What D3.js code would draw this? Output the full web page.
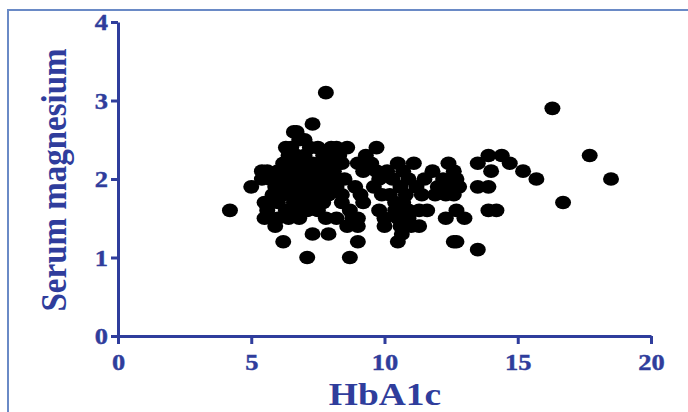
<!DOCTYPE html>
<html><head><meta charset="utf-8">
<script src="https://cdn.jsdelivr.net/npm/d3@7"></script>
<style>
html,body{margin:0;padding:0;background:#fff;}
svg{display:block;}
</style></head>
<body>
<svg id="chart" width="688" height="412"></svg>
<script>
// HbA1c (x) and Serum magnesium (y) pairs, grouped by magnesium level
const rows = [
  [3.1, [7.8]],
  [2.9, [16.3]],
  [2.7, [7.3]],
  [2.6, [6.6, 6.7]],
  [2.5, [6.8, 7.0]],
  [2.4, [6.3, 6.5, 7.2, 7.5, 8.0, 8.2, 8.6, 9.7]],
  [2.3, [6.4, 6.7, 7.0, 7.7, 7.9, 8.3, 9.3, 13.9, 14.4, 17.7]],
  [2.2, [6.2, 6.6, 6.9, 7.3, 7.6, 8.0, 8.4, 9.0, 9.5, 10.5, 11.1, 12.4, 13.5, 14.7]],
  [2.1, [5.4, 5.6, 6.0, 6.5, 6.8, 7.1, 7.5, 7.8, 8.1, 9.2, 9.7, 10.1, 10.7, 11.8, 12.6, 14.0, 15.2]],
  [2.0, [5.4, 5.7, 6.1, 6.4, 6.9, 7.2, 7.6, 8.0, 8.5, 9.8, 10.3, 10.9, 11.5, 12.2, 12.7, 15.7, 18.5]],
  [1.9, [5.0, 5.9, 6.3, 6.6, 7.0, 7.3, 7.8, 8.2, 8.9, 9.6, 10.6, 11.2, 12.0, 12.4, 12.8, 13.5, 13.9]],
  [1.8, [5.8, 6.2, 6.5, 6.8, 7.2, 7.5, 7.9, 8.4, 9.1, 9.9, 10.2, 10.8, 11.4, 11.9, 12.3, 12.6]],
  [1.7, [5.5, 6.0, 6.6, 6.9, 7.3, 7.7, 8.4, 9.2, 10.4, 10.7, 16.7]],
  [1.6, [4.2, 5.6, 6.3, 6.8, 7.1, 7.5, 8.7, 9.8, 10.4, 10.9, 11.3, 11.6, 12.7, 13.9, 14.2]],
  [1.5, [5.5, 6.0, 6.4, 6.8, 7.8, 8.2, 8.8, 9.0, 10.0, 10.5, 10.9, 12.3, 13.0]],
  [1.4, [5.9, 8.6, 9.0, 10.0, 10.6, 11.0, 11.3]],
  [1.3, [7.3, 7.9, 10.65]],
  [1.2, [6.2, 9.0, 10.5, 12.6, 12.7]],
  [1.1, [13.5]],
  [1.0, [7.1, 8.7]]
];
const xTicks = [0, 5, 10, 15, 20];
const yTicks = [0, 1, 2, 3, 4];
const xTitle = "HbA1c";
const yTitle = "Serum magnesium";

const points = [];
rows.forEach(([mg, hs]) => hs.forEach(h => points.push({x: h, y: mg})));

const axisColor = "#2f3d9c";
const font = "Liberation Serif, Times New Roman, serif";
const svg = d3.select("#chart");

// frame
svg.append("path").attr("d", "M8,412 L8,10 L688,10")
  .attr("fill", "none").attr("stroke", "#6a8ac6").attr("stroke-width", 2);

const x = d3.scaleLinear().domain([0, 20]).range([118, 651]);
const y = d3.scaleLinear().domain([0, 4]).range([336, 22]);

// points
svg.append("g").selectAll("ellipse").data(points).enter().append("ellipse")
  .attr("cx", d => x(d.x)).attr("cy", d => y(d.y))
  .attr("rx", 8).attr("ry", 6.8).attr("fill", "#000");

const sx = 1.15;
const gx = svg.append("g").attr("transform", "translate(0,336)")
  .call(d3.axisBottom(x).tickValues(xTicks).tickFormat(d3.format("d"))
    .tickSize(8).tickPadding(4).tickSizeOuter(0));
const gy = svg.append("g").attr("transform", "translate(118,0)")
  .call(d3.axisLeft(y).tickValues(yTicks).tickFormat(d3.format("d"))
    .tickSize(7).tickPadding(3).tickSizeOuter(0));

[gx, gy].forEach(g => {
  g.attr("font-family", font).attr("font-size", 23).attr("font-weight", "bold");
  g.select(".domain").attr("stroke", axisColor).attr("stroke-width", 3);
  g.selectAll(".tick line").attr("stroke", axisColor).attr("stroke-width", 3);
  g.selectAll(".tick text").attr("fill", axisColor)
    .attr("font-family", font).attr("font-weight", "bold").attr("font-size", 23)
    .attr("stroke", axisColor).attr("stroke-width", 0.4);
});
gx.selectAll(".tick text").attr("transform", `scale(${sx},1)`)
  .attr("x", 0).attr("y", 17).attr("dy", "0.75em");
gy.selectAll(".tick text").attr("transform", `scale(${sx},1)`)
  .attr("x", -10 / sx).attr("dy", "0.34em");

svg.append("text").attr("transform", `translate(385,405) scale(1.17,1)`)
  .attr("text-anchor", "middle").attr("fill", axisColor)
  .attr("font-family", font).attr("font-weight", "bold").attr("font-size", 32)
  .text(xTitle);

svg.append("text").attr("transform", `translate(66,180) scale(1.1,1) rotate(-90)`)
  .attr("text-anchor", "middle").attr("fill", axisColor)
  .attr("font-family", font).attr("font-weight", "bold").attr("font-size", 33)
  .text(yTitle);
</script>
</body></html>
